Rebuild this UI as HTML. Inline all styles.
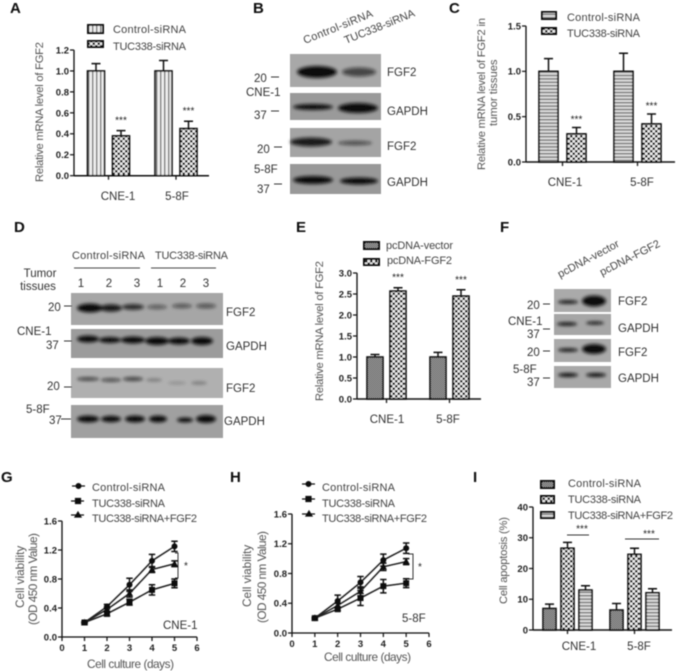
<!DOCTYPE html>
<html lang="en">
<head>
<meta charset="utf-8">
<title>FGF2 figure</title>
<style>
html,body{margin:0;padding:0;background:#fff;width:676px;height:671px;overflow:hidden}
svg{display:block;font-family:"Liberation Sans",sans-serif}
.lt{font-size:11px;fill:#444}
.pl{font-size:15px;font-weight:bold;fill:#111}
.wl{font-size:11.5px;fill:#333}
.tick{font-size:9.5px;font-weight:bold;fill:#222}
.star{font-size:10px;fill:#222}
.cat{font-size:11.5px;fill:#333}
.yt{font-size:11.2px;fill:#555}
.yv{font-size:11.8px;fill:#555}
.band{fill:#111}
</style>
</head>
<body>
<svg id="fig" width="676" height="671" viewBox="0 0 676 671" xmlns="http://www.w3.org/2000/svg">
<defs>
<pattern id="pv" width="4" height="4" patternUnits="userSpaceOnUse"><rect width="4" height="4" fill="#eee"/><rect width="1.4" height="4" fill="#777"/></pattern>
<pattern id="ph" width="4" height="3.4" patternUnits="userSpaceOnUse"><rect width="4" height="3.4" fill="#ddd"/><rect width="4" height="1.4" fill="#777"/></pattern>
<pattern id="pc" width="5" height="5" patternUnits="userSpaceOnUse"><rect width="5" height="5" fill="#eee"/><rect width="2.5" height="2.5" fill="#222"/><rect x="2.5" y="2.5" width="2.5" height="2.5" fill="#222"/></pattern>
<pattern id="pd" width="2" height="2" patternUnits="userSpaceOnUse"><rect width="2" height="2" fill="#aaa"/><rect width="1" height="1" fill="#444"/><rect x="1" y="1" width="1" height="1" fill="#444"/></pattern>
<filter id="soft" x="-5%" y="-5%" width="110%" height="110%"><feGaussianBlur stdDeviation="0.5"/></filter>
<filter id="bb" x="-30%" y="-60%" width="160%" height="220%"><feGaussianBlur stdDeviation="1.5"/></filter>
</defs>

<g id="root" filter="url(#soft)">
<g>
<text class="pl" x="10" y="13">A</text>
<text class="pl" x="253" y="13">B</text>
<text class="pl" x="449" y="13">C</text>
<text class="pl" x="14" y="232">D</text>
<text class="pl" x="296" y="232">E</text>
<text class="pl" x="500" y="232">F</text>
<text class="pl" x="1" y="482">G</text>
<text class="pl" x="230" y="482">H</text>
<text class="pl" x="473" y="482">I</text>
</g>

<!-- bar legends -->
<g stroke="#111" stroke-width="2">
<rect x="88" y="25" width="15" height="8" fill="url(#pv)"/>
<rect x="88" y="41" width="15" height="6" fill="url(#pc)"/>
</g>
<text class="lt" x="113" y="33" textLength="73">Control-siRNA</text>
<text class="lt" x="113" y="50" textLength="73">TUC338-siRNA</text>

<g stroke="#111" stroke-width="2">
<rect x="542" y="12" width="14" height="7" fill="url(#ph)"/>
<rect x="542" y="28" width="14" height="6" fill="url(#pc)"/>
</g>
<text class="lt" x="567" y="21" textLength="73">Control-siRNA</text>
<text class="lt" x="567" y="37" textLength="73">TUC338-siRNA</text>

<g stroke="#111" stroke-width="2">
<rect x="364" y="242" width="15" height="7" fill="url(#pd)"/>
<rect x="364" y="259" width="15" height="6" fill="url(#pc)"/>
</g>
<text class="lt" x="386" y="249" textLength="67">pcDNA-vector</text>
<text class="lt" x="387" y="264" textLength="65">pcDNA-FGF2</text>

<g stroke="#111" stroke-width="2">
<rect x="541" y="481" width="13" height="7" fill="url(#pd)"/>
<rect x="541" y="496" width="13" height="7" fill="url(#pc)"/>
<rect x="541" y="512" width="13" height="6" fill="url(#ph)"/>
</g>
<text class="lt" x="568" y="487" textLength="73">Control-siRNA</text>
<text class="lt" x="568" y="503" textLength="73">TUC338-siRNA</text>
<text class="lt" x="568" y="519" textLength="105">TUC338-siRNA+FGF2</text>

<!-- line legends -->
<g stroke="#111" stroke-width="1.2" fill="#111">
<line x1="72" y1="486" x2="85" y2="486"/><circle cx="78.5" cy="486" r="2.4"/>
<line x1="71" y1="501" x2="84" y2="501"/><rect x="75.5" y="498.5" width="5" height="5"/>
<line x1="71" y1="515" x2="84" y2="515"/><path d="M78,512 l3,5 h-6z"/>
</g>
<text class="lt" x="92" y="491" textLength="73">Control-siRNA</text>
<text class="lt" x="92" y="507" textLength="73">TUC338-siRNA</text>
<text class="lt" x="92" y="522" textLength="105">TUC338-siRNA+FGF2</text>

<g stroke="#111" stroke-width="1.2" fill="#111">
<line x1="302" y1="484" x2="315" y2="484"/><circle cx="308.5" cy="484" r="2.4"/>
<line x1="302" y1="499" x2="315" y2="499"/><rect x="306" y="496.5" width="5" height="5"/>
<line x1="302" y1="514" x2="315" y2="514"/><path d="M309,511 l3,5 h-6z"/>
</g>
<text class="lt" x="322" y="491" textLength="73">Control-siRNA</text>
<text class="lt" x="322" y="507" textLength="73">TUC338-siRNA</text>
<text class="lt" x="322" y="522" textLength="105">TUC338-siRNA+FGF2</text>

<!-- axis titles -->
<text class="yt" transform="translate(43,182) rotate(-90)" textLength="140">Relative mRNA level of FGF2</text>
<text class="yt" transform="translate(485,170) rotate(-90)" textLength="152">Relative mRNA level of FGF2 in</text>
<text class="yt" transform="translate(497,126) rotate(-90)">tumor tissues</text>
<text class="yt" transform="translate(323,401) rotate(-90)" textLength="140">Relative mRNA level of FGF2</text>
<text class="yv" transform="translate(24,608) rotate(-90)">Cell viability</text>
<text class="yv" transform="translate(37,625) rotate(-90)" textLength="92">(OD 450 nm Value)</text>
<text class="yv" transform="translate(251,607) rotate(-90)">Cell viability</text>
<text class="yv" transform="translate(266,623) rotate(-90)" textLength="92">(OD 450 nm Value)</text>
<text class="yt" transform="translate(507,604) rotate(-90)" textLength="87">Cell apoptosis (%)</text>
<text class="yv" x="87" y="668" textLength="87">Cell culture (days)</text>
<text class="yv" x="324" y="661" textLength="87">Cell culture (days)</text>
<text class="wl" x="163" y="629">CNE-1</text>
<text class="wl" x="402" y="622">5-8F</text>

<!-- Western blot B -->
<g>
<text class="lt" transform="translate(305,44) rotate(-22)" textLength="74">Control-siRNA</text>
<text class="lt" transform="translate(346,44) rotate(-22)" textLength="75">TUC338-siRNA</text>
<rect x="290" y="54" width="91" height="33" fill="#a8a8a8"/>
<rect x="290" y="93" width="91" height="27" fill="#9a9a9a"/>
<rect x="290" y="128" width="91" height="29" fill="#a4a4a4"/>
<rect x="290" y="164" width="91" height="30" fill="#999"/>
<g filter="url(#bb)">
<ellipse class="band" cx="317" cy="72" rx="20" ry="6"/>
<ellipse class="band" cx="359" cy="72" rx="17" ry="4.5" opacity=".65"/>
<ellipse class="band" cx="313" cy="107" rx="20" ry="3"/>
<ellipse class="band" cx="358" cy="108" rx="20" ry="5"/>
<ellipse class="band" cx="311" cy="142" rx="21" ry="4.5" opacity=".9"/>
<ellipse class="band" cx="355" cy="143" rx="17" ry="2.2" opacity=".6"/>
<ellipse class="band" cx="313" cy="180" rx="20" ry="4"/>
<ellipse class="band" cx="359" cy="181" rx="19" ry="3.5"/>
</g>
<text class="wl" x="387" y="76">FGF2</text>
<text class="wl" x="387" y="115">GAPDH</text>
<text class="wl" x="387" y="150">FGF2</text>
<text class="wl" x="387" y="186">GAPDH</text>
<text class="wl" x="254" y="82">20</text>
<text class="wl" x="246" y="96">CNE-1</text>
<text class="wl" x="254" y="119">37</text>
<text class="wl" x="257" y="153">20</text>
<text class="wl" x="254" y="173">5-8F</text>
<text class="wl" x="257" y="193">37</text>
<g stroke="#333" stroke-width="1">
<line x1="271" y1="77" x2="279" y2="77"/>
<line x1="271" y1="111" x2="279" y2="111"/>
<line x1="274" y1="147" x2="282" y2="147"/>
<line x1="274" y1="184" x2="282" y2="184"/>
</g>
</g>

<!-- Western blot D -->
<g>
<text class="lt" x="72" y="259" textLength="73">Control-siRNA</text>
<text class="lt" x="155" y="259" textLength="73">TUC338-siRNA</text>
<g stroke="#444" stroke-width="1">
<line x1="74" y1="268" x2="140" y2="268"/>
<line x1="151" y1="268" x2="216" y2="268"/>
</g>
<text class="wl" x="40" y="277" text-anchor="middle">Tumor</text>
<text class="wl" x="38" y="290" text-anchor="middle">tissues</text>
<g class="wl" text-anchor="middle">
<text x="81" y="287">1</text>
<text x="109" y="287">2</text>
<text x="137" y="287">3</text>
<text x="160" y="287">1</text>
<text x="183" y="287">2</text>
<text x="206" y="287">3</text>
</g>
<rect x="71" y="293" width="152" height="32" fill="#a6a6a6"/>
<rect x="71" y="329" width="152" height="29" fill="#9c9c9c"/>
<rect x="71" y="368" width="152" height="30" fill="#b0b0b0"/>
<rect x="71" y="405" width="152" height="33" fill="#a0a0a0"/>
<g filter="url(#bb)">
<ellipse class="band" cx="90" cy="308" rx="13" ry="4.5"/>
<ellipse class="band" cx="111" cy="308" rx="11" ry="3.8" opacity=".9"/>
<ellipse class="band" cx="133" cy="307" rx="11" ry="3" opacity=".8"/>
<ellipse class="band" cx="157" cy="307" rx="10" ry="2.2" opacity=".5"/>
<ellipse class="band" cx="182" cy="306" rx="10" ry="2.2" opacity=".55"/>
<ellipse class="band" cx="206" cy="306" rx="10" ry="2.4" opacity=".55"/>
<ellipse class="band" cx="88" cy="339" rx="11" ry="3.5"/>
<ellipse class="band" cx="110" cy="340" rx="11" ry="3"/>
<ellipse class="band" cx="133" cy="340" rx="12" ry="3.5"/>
<ellipse class="band" cx="157" cy="341" rx="12" ry="4"/>
<ellipse class="band" cx="179" cy="341" rx="11" ry="3.5"/>
<ellipse class="band" cx="202" cy="341" rx="11" ry="4"/>
<ellipse class="band" cx="88" cy="379" rx="11" ry="1.8" opacity=".7"/>
<ellipse class="band" cx="111" cy="380" rx="10" ry="1.8" opacity=".65"/>
<ellipse class="band" cx="133" cy="379" rx="10" ry="2" opacity=".7"/>
<ellipse class="band" cx="154" cy="380" rx="8" ry="1.6" opacity=".3"/>
<ellipse class="band" cx="177" cy="383" rx="9" ry="1.4" opacity=".2"/>
<ellipse class="band" cx="199" cy="383" rx="8" ry="1.6" opacity=".3"/>
<ellipse class="band" cx="88" cy="419" rx="11" ry="3.5"/>
<ellipse class="band" cx="111" cy="419" rx="10" ry="3.2"/>
<ellipse class="band" cx="135" cy="419" rx="10" ry="3.5"/>
<ellipse class="band" cx="158" cy="419" rx="9" ry="3.5"/>
<ellipse class="band" cx="185" cy="420" rx="8" ry="2.5"/>
<ellipse class="band" cx="206" cy="419" rx="10" ry="4"/>
</g>
<text class="wl" x="226" y="316">FGF2</text>
<text class="wl" x="226" y="350">GAPDH</text>
<text class="wl" x="226" y="392">FGF2</text>
<text class="wl" x="224" y="425">GAPDH</text>
<text class="wl" x="48" y="311">20</text>
<text class="wl" x="17" y="335">CNE-1</text>
<text class="wl" x="46" y="349">37</text>
<text class="wl" x="47" y="390">20</text>
<text class="wl" x="26" y="413">5-8F</text>
<text class="wl" x="49" y="424">37</text>
<g stroke="#333" stroke-width="1">
<line x1="64" y1="306" x2="72" y2="306"/>
<line x1="64" y1="341" x2="72" y2="341"/>
<line x1="64" y1="387" x2="72" y2="387"/>
<line x1="61" y1="419" x2="71" y2="419"/>
</g>
</g>

<!-- Western blot F -->
<g>
<text class="lt" transform="translate(560,278) rotate(-28)" textLength="68">pcDNA-vector</text>
<text class="lt" transform="translate(602,276) rotate(-27)" textLength="66">pcDNA-FGF2</text>
<rect x="554" y="289" width="57" height="23" fill="#aaa"/>
<rect x="554" y="314" width="57" height="21" fill="#a6a6a6"/>
<rect x="554" y="339" width="57" height="23" fill="#aaa"/>
<rect x="554" y="366" width="57" height="22" fill="#a8a8a8"/>
<g filter="url(#bb)">
<ellipse class="band" cx="568" cy="302" rx="10" ry="1.8"/>
<ellipse class="band" cx="594" cy="301" rx="12" ry="5.5"/>
<ellipse class="band" cx="567" cy="324" rx="10" ry="1.8"/>
<ellipse class="band" cx="595" cy="323" rx="9" ry="1.5"/>
<ellipse class="band" cx="568" cy="350" rx="10" ry="1.8"/>
<ellipse class="band" cx="594" cy="349" rx="12" ry="5"/>
<ellipse class="band" cx="568" cy="375" rx="10" ry="2"/>
<ellipse class="band" cx="596" cy="375" rx="10" ry="2"/>
</g>
<text class="wl" x="618" y="305">FGF2</text>
<text class="wl" x="618" y="332">GAPDH</text>
<text class="wl" x="618" y="356">FGF2</text>
<text class="wl" x="618" y="382">GAPDH</text>
<text class="wl" x="527" y="309">20</text>
<text class="wl" x="508" y="325">CNE-1</text>
<text class="wl" x="527" y="338">37</text>
<text class="wl" x="527" y="356">20</text>
<text class="wl" x="513" y="373">5-8F</text>
<text class="wl" x="527" y="386">37</text>
<g stroke="#333" stroke-width="1">
<line x1="543" y1="304" x2="550" y2="304"/>
<line x1="543" y1="329" x2="550" y2="329"/>
<line x1="543" y1="351" x2="550" y2="351"/>
<line x1="543" y1="378" x2="550" y2="378"/>
</g>
</g>

<!-- significance marks -->
<g stroke="#333" stroke-width="1" fill="none">
<line x1="567" y1="535" x2="589" y2="535"/>
<line x1="625" y1="539" x2="659" y2="539"/>
<path d="M175,553 h3 v25 h-3"/>
<path d="M408,554 h5 v25 h-5"/>
</g>
<text class="star" x="582" y="532" text-anchor="middle">***</text>
<text class="star" x="649" y="537" text-anchor="middle">***</text>
<text class="star" x="186" y="569" text-anchor="middle">*</text>
<text class="star" x="420" y="570" text-anchor="middle">*</text>

<g id="charts"></g>
</g>
</svg>

<script>
// Panel A
const aTicks = [0, 0.2, 0.4, 0.6, 0.8, 1.0, 1.2];
const aCategories = ['CNE-1', '5-8F'];
const aControl = [1.0, 1.0];
const aControlErr = [0.07, 0.10];
const aTuc = [0.38, 0.45];
const aTucErr = [0.05, 0.07];
// Panel C
const cTicks = [0, 0.5, 1.0, 1.5];
const cCategories = ['CNE-1', '5-8F'];
const cControl = [1.0, 1.0];
const cControlErr = [0.14, 0.20];
const cTuc = [0.31, 0.42];
const cTucErr = [0.07, 0.11];
// Panel E
const eTicks = [0, 0.5, 1.0, 1.5, 2.0, 2.5, 3.0];
const eCategories = ['CNE-1', '5-8F'];
const eVector = [1.0, 1.0];
const eVectorErr = [0.06, 0.11];
const eFgf2 = [2.57, 2.45];
const eFgf2Err = [0.08, 0.15];
// Panel I
const iTicks = [0, 10, 20, 30, 40];
const iCategories = ['CNE-1', '5-8F'];
const iControl = [7.0, 6.5];
const iControlErr = [1.4, 2.1];
const iTuc = [26.6, 24.6];
const iTucErr = [1.9, 2.0];
const iFgf2 = [13.0, 12.1];
const iFgf2Err = [1.4, 1.3];
// Panel G
const lineDays = [1, 2, 3, 4, 5];
const lineYTicks = [0.0, 0.4, 0.8, 1.2, 1.6];
const lineXTicks = [0, 1, 2, 3, 4, 5, 6];
const gControl = [0.20, 0.42, 0.72, 1.05, 1.25];
const gControlErr = [0.01, 0.03, 0.09, 0.09, 0.07];
const gTuc = [0.20, 0.32, 0.48, 0.65, 0.74];
const gTucErr = [0.01, 0.03, 0.04, 0.07, 0.06];
const gFgf2 = [0.20, 0.38, 0.60, 0.93, 1.01];
const gFgf2Err = [0.01, 0.03, 0.05, 0.04, 0.04];
// Panel H
const hControl = [0.20, 0.43, 0.68, 0.98, 1.14];
const hControlErr = [0.01, 0.08, 0.08, 0.08, 0.07];
const hTuc = [0.20, 0.32, 0.47, 0.63, 0.67];
const hTucErr = [0.01, 0.02, 0.10, 0.09, 0.06];
const hFgf2 = [0.20, 0.37, 0.56, 0.89, 0.96];
const hFgf2Err = [0.01, 0.03, 0.06, 0.05, 0.04];

const NS = 'http://www.w3.org/2000/svg';
const charts = document.getElementById('charts');

function make(tag, attrs, parent) {
  const node = document.createElementNS(NS, tag);
  for (const k in attrs) node.setAttribute(k, attrs[k]);
  parent.appendChild(node);
  return node;
}
function label(parent, cls, x, y, str, anchor) {
  const t = make('text', {class: cls, x: x, y: y, 'text-anchor': anchor}, parent);
  t.textContent = str;
  
  
  return t;
}
function drawYAxis(g, axisX, yFn, ticks, digits, topValue, baseValue) {
  const axis = make('line', {x1: axisX, x2: axisX, y1: yFn(topValue), y2: yFn(baseValue), stroke: '#111', 'stroke-width': 1.3}, g);
  
  
  ticks.forEach(function (v) {
    const tick = make('line', {x1: axisX - 4, x2: axisX, y1: yFn(v), y2: yFn(v), stroke: '#111', 'stroke-width': 1.2}, g);
    
    
    label(g, 'tick', axisX - 5, yFn(v) + 3.4, v.toFixed(digits), 'end');
  });
}
function barChart(o) {
  const g = make('g', {}, charts);
  
  
  const maxTick = o.ticks[o.ticks.length - 1];
  const yFn = function (v) { return o.y0 - (o.y0 - o.yTop) * v / maxTick; };
  drawYAxis(g, o.axisX, yFn, o.ticks, o.digits, maxTick, 0);
  const xAxis = make('line', {x1: o.axisX, x2: o.axisEnd, y1: o.y0, y2: o.y0, stroke: '#111', 'stroke-width': 1.5}, g);
  
  
  o.categories.forEach(function (cat, c) {
    const n = o.series.length;
    const left = o.x0 + c * o.step;
    const cx = left + (n * o.pitch - (o.pitch - o.barW)) / 2;
    const tick = make('line', {x1: cx, x2: cx, y1: o.y0, y2: o.y0 + 4, stroke: '#111', 'stroke-width': 1.2}, g);
    
    
    label(g, 'cat', o.catX + c * o.catStep, o.catY, cat, 'middle');
    o.series.forEach(function (s, i) {
      const x = left + i * o.pitch;
      const v = s.values[c];
      const e = s.errs[c];
      const mid = x + o.barW / 2;
      const errLine = make('path', {d: 'M' + mid + ',' + yFn(v) + ' V' + yFn(v + e) + ' M' + (mid - 4.5) + ',' + yFn(v + e) + ' h9', stroke: '#111', 'stroke-width': 1.5, fill: 'none'}, g);
      
      
      const bar = make('rect', {x: x, y: yFn(v), width: o.barW, height: yFn(0) - yFn(v), fill: 'url(#' + s.pattern + ')', stroke: '#111', 'stroke-width': 1.6}, g);
      
      
      if (s.stars) {
        label(g, 'star', mid, yFn(v + e) - o.starGap, '***', 'middle');
      }
    });
  });
}
function lineChart(o) {
  const g = make('g', {}, charts);
  
  
  const xFn = function (d) { return o.axisX + (o.axisEnd - o.axisX) * d / 6; };
  const yFn = function (v) { return o.y0 - (o.y0 - o.yTop) * v / 1.6; };
  drawYAxis(g, o.axisX, yFn, lineYTicks, 1, 1.6, 0);
  const xAxis = make('line', {x1: o.axisX, x2: o.axisEnd, y1: o.y0, y2: o.y0, stroke: '#111', 'stroke-width': 1.3}, g);
  
  
  lineXTicks.forEach(function (d) {
    const tick = make('line', {x1: xFn(d), x2: xFn(d), y1: o.y0, y2: o.y0 + 4, stroke: '#111', 'stroke-width': 1.2}, g);
    
    
    label(g, 'tick', xFn(d), o.y0 + 14, String(d), 'middle');
  });
  o.series.forEach(function (s) {
    const pts = lineDays.map(function (d, i) { return xFn(d) + ',' + yFn(s.values[i]); }).join(' ');
    const line = make('polyline', {points: pts, fill: 'none', stroke: '#222', 'stroke-width': 1.5}, g);
    
    
    lineDays.forEach(function (d, i) {
      const x = xFn(d);
      const y = yFn(s.values[i]);
      const hi = yFn(s.values[i] + s.errs[i]);
      const lo = yFn(s.values[i] - s.errs[i]);
      const err = make('path', {d: 'M' + x + ',' + hi + ' V' + lo + ' M' + (x - 3.2) + ',' + hi + ' h6.4 M' + (x - 3.2) + ',' + lo + ' h6.4', stroke: '#111', 'stroke-width': 1.5, fill: 'none'}, g);
      
      
      let mark;
      if (s.marker === 'circle') {
        mark = make('circle', {cx: x, cy: y, r: 3, fill: '#111'}, g);
      } else if (s.marker === 'square') {
        mark = make('rect', {x: x - 3, y: y - 3, width: 6, height: 6, fill: '#111'}, g);
      } else {
        mark = make('path', {d: 'M' + x + ',' + (y - 3.8) + ' l3.6,6.6 h-7.2z', fill: '#111'}, g);
      }
      
      
    });
  });
}

barChart({name: 'chart-a', ticks: aTicks, digits: 1, categories: aCategories, axisX: 74, axisEnd: 209, y0: 175.7, yTop: 50, x0: 87.5, barW: 17, pitch: 25, step: 67.5, catX: 118, catStep: 59, catY: 200, starGap: 7,
  series: [{values: aControl, errs: aControlErr, pattern: 'pv'}, {values: aTuc, errs: aTucErr, pattern: 'pc', stars: true}]});
barChart({name: 'chart-c', ticks: cTicks, digits: 1, categories: cCategories, axisX: 526, axisEnd: 675, y0: 162, yTop: 26, x0: 539, barW: 19, pitch: 28, step: 75, catX: 565, catStep: 77, catY: 186, starGap: 5,
  series: [{values: cControl, errs: cControlErr, pattern: 'ph'}, {values: cTuc, errs: cTucErr, pattern: 'pc', stars: true}]});
barChart({name: 'chart-e', ticks: eTicks, digits: 1, categories: eCategories, axisX: 357, axisEnd: 481, y0: 399, yTop: 273, x0: 367, barW: 16, pitch: 23, step: 63, catX: 387, catStep: 61, catY: 423, starGap: 7,
  series: [{values: eVector, errs: eVectorErr, pattern: 'pd'}, {values: eFgf2, errs: eFgf2Err, pattern: 'pc', stars: true}]});
barChart({name: 'chart-i', ticks: iTicks, digits: 0, categories: iCategories, axisX: 533, axisEnd: 672, y0: 630, yTop: 507, x0: 543, barW: 13, pitch: 18, step: 67, catX: 579, catStep: 60, catY: 650, starGap: 2,
  series: [{values: iControl, errs: iControlErr, pattern: 'pd'}, {values: iTuc, errs: iTucErr, pattern: 'pc'}, {values: iFgf2, errs: iFgf2Err, pattern: 'ph'}]});
lineChart({name: 'chart-g', axisX: 62, axisEnd: 197, y0: 637, yTop: 521,
  series: [{name: 'control', marker: 'circle', values: gControl, errs: gControlErr},
           {name: 'tuc338', marker: 'square', values: gTuc, errs: gTucErr},
           {name: 'tuc338-fgf2', marker: 'triangle', values: gFgf2, errs: gFgf2Err}]});
lineChart({name: 'chart-h', axisX: 292, axisEnd: 429, y0: 633, yTop: 514,
  series: [{name: 'control', marker: 'circle', values: hControl, errs: hControlErr},
           {name: 'tuc338', marker: 'square', values: hTuc, errs: hTucErr},
           {name: 'tuc338-fgf2', marker: 'triangle', values: hFgf2, errs: hFgf2Err}]});
</script>
</body>
</html>
